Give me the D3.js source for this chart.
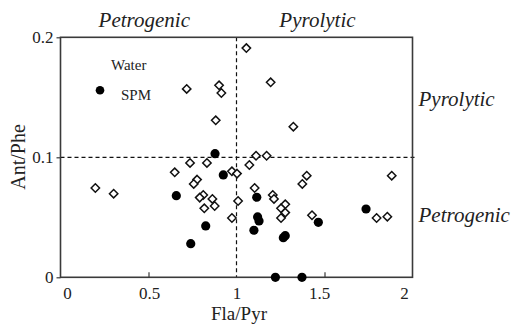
<!DOCTYPE html>
<html>
<head>
<meta charset="utf-8">
<script src="https://cdn.jsdelivr.net/npm/d3@7"></script>
<style>
  html, body { margin: 0; padding: 0; background: #fff; }
  svg { display: block; }
</style>
</head>
<body>
<svg id="chart" width="514" height="324" font-family="Liberation Serif"></svg>
<script>
// Water samples (open diamonds): Fla/Pyr, Ant/Phe
const waterX = [1.056, 1.194, 0.717, 0.901, 0.914, 0.882, 1.323, 1.111, 1.171, 0.736,
                0.832, 1.073, 0.649, 0.974, 1.003, 1.399, 1.882, 0.776, 0.757, 1.374,
                0.198, 1.103, 0.302, 0.811, 1.206, 0.791, 1.213, 0.863, 1.009, 1.277,
                0.817, 0.876, 1.253, 1.277, 1.429, 0.974, 1.253, 1.796, 1.857];
const waterY = [0.191, 0.1625, 0.157, 0.160, 0.1536, 0.1308, 0.1255, 0.1013, 0.1013, 0.0953,
                0.0953, 0.0936, 0.0875, 0.0883, 0.0864, 0.0847, 0.0847, 0.0814, 0.0778, 0.0778,
                0.0744, 0.0744, 0.0697, 0.0686, 0.0686, 0.0664, 0.0653, 0.0653, 0.0636, 0.0608,
                0.0575, 0.0594, 0.0575, 0.0539, 0.0517, 0.0494, 0.0494, 0.0494, 0.0505];
// SPM samples (filled circles)
const spmX = [0.878, 0.925, 0.658, 1.115, 0.825, 0.740, 1.736, 1.465, 1.120, 1.128,
              1.099, 1.266, 1.277, 1.221, 1.372];
const spmY = [0.103, 0.0853, 0.068, 0.0667, 0.0428, 0.028, 0.0569, 0.0458, 0.0503, 0.0469,
              0.0392, 0.033, 0.0347, 0.0, 0.0];

const xTicks = [0, 0.5, 1, 1.5, 2];
const xTickLabels = ["0", "0.5", "1", "1.5", "2"];
const yTicks = [0, 0.1, 0.2];
const yTickLabels = ["0", "0.1", "0.2"];
const xThreshold = [1];
const yThreshold = [0.1];
const xTitle = "Fla/Pyr";
const yTitle = "Ant/Phe";
const topLabels = ["Petrogenic", "Pyrolytic"];
const sideLabels = ["Pyrolytic", "Petrogenic"];
const legendLabels = ["Water", "SPM"];

const FONT = "Liberation Serif";
const svg = d3.select("#chart");
const L = 60.5, R = 412.5, T = 37.3, B = 277.3;
const x = d3.scaleLinear().domain([0, 2]).range([L, R]);
const y = d3.scaleLinear().domain([0, 0.2]).range([B, T]);

// threshold dashed lines
svg.selectAll("line.vth").data(xThreshold).enter().append("line")
  .attr("x1", d => x(d)).attr("x2", d => x(d))
  .attr("y1", T).attr("y2", B)
  .attr("stroke", "#111").attr("stroke-width", 1.2).attr("stroke-dasharray", "4,3");
svg.selectAll("line.hth").data(yThreshold).enter().append("line")
  .attr("x1", L).attr("x2", R + 3)
  .attr("y1", d => y(d)).attr("y2", d => y(d))
  .attr("stroke", "#111").attr("stroke-width", 1.2).attr("stroke-dasharray", "4,3");

// frame
svg.append("rect").attr("x", L).attr("y", T).attr("width", R - L).attr("height", B - T)
  .attr("fill", "none").attr("stroke", "#3a3a3a").attr("stroke-width", 1.6);

// x axis
const xAxis = d3.axisBottom(x).tickValues(xTicks)
  .tickFormat((d, i) => xTickLabels[i]).tickSizeInner(-5).tickSizeOuter(0).tickPadding(10);
const gx = svg.append("g").attr("transform", `translate(0,${B})`).call(xAxis)
  .attr("font-family", FONT).attr("font-size", 17);
gx.select(".domain").remove();
gx.selectAll(".tick line").attr("stroke", "#3a3a3a").attr("stroke-width", 1.2)
  .attr("display", d => (d === 0 || d === 2 || d === 1) ? "none" : null);
const xDx = [6.5, 0.5, 0, -5.5, -8.5];
gx.selectAll(".tick text").attr("font-family", FONT).attr("font-size", 17)
  .attr("fill", "#222").attr("dx", (d, i) => xDx[i]);

// y axis
const yAxis = d3.axisLeft(y).tickValues(yTicks)
  .tickFormat((d, i) => yTickLabels[i]).tickSizeInner(4).tickSizeOuter(0).tickPadding(3);
const gy = svg.append("g").attr("transform", `translate(${L},0)`).call(yAxis)
  .attr("font-family", FONT).attr("font-size", 17);
gy.select(".domain").remove();
gy.selectAll(".tick line").attr("stroke", "#3a3a3a").attr("stroke-width", 1.2);
gy.selectAll(".tick text").attr("font-family", FONT).attr("font-size", 17)
  .attr("fill", "#222");

// axis titles
svg.append("text").attr("x", 239).attr("y", 320).attr("text-anchor", "middle")
  .attr("font-family", FONT).attr("font-size", 19).attr("fill", "#222").text(xTitle);
svg.append("text").attr("transform", "translate(25,157) rotate(-90)")
  .attr("text-anchor", "middle").attr("font-family", FONT).attr("font-size", 20)
  .attr("fill", "#222").text(yTitle);

// region labels
svg.selectAll("text.top").data(topLabels).enter().append("text")
  .attr("x", (d, i) => i === 0 ? x(0.476) : x(1.46)).attr("y", 27)
  .attr("text-anchor", "middle").attr("font-family", FONT).attr("font-style", "italic")
  .attr("font-size", 21).attr("fill", "#222").text(d => d);
svg.selectAll("text.side").data(sideLabels).enter().append("text")
  .attr("x", R + 6).attr("y", (d, i) => i === 0 ? y(0.143) : y(0.0464))
  .attr("text-anchor", "start").attr("font-family", FONT).attr("font-style", "italic")
  .attr("font-size", 21).attr("fill", "#222").text(d => d);

// water points (diamonds)
svg.append("g").selectAll("path").data(waterX.map((v, i) => [v, waterY[i]])).enter()
  .append("path")
  .attr("d", () => { const s = 4.2; return `M0,${-s}L${s},0L0,${s}L${-s},0Z`; })
  .attr("transform", d => `translate(${x(d[0])},${y(d[1])})`)
  .attr("fill", "#fff").attr("stroke", "#111").attr("stroke-width", 1.5);

// spm points
svg.append("g").selectAll("circle").data(spmX.map((v, i) => [v, spmY[i]])).enter()
  .append("circle")
  .attr("cx", d => x(d[0])).attr("cy", d => y(d[1])).attr("r", 4.6)
  .attr("fill", "#000");

// legend
svg.append("text").attr("x", 111).attr("y", 70).attr("font-family", FONT)
  .attr("font-size", 15).attr("fill", "#222").text(legendLabels[0]);
svg.append("circle").attr("cx", 100).attr("cy", 90.3).attr("r", 4.3).attr("fill", "#000");
svg.append("text").attr("x", 121).attr("y", 100).attr("font-family", FONT)
  .attr("font-size", 15).attr("fill", "#222").text(legendLabels[1]);
</script>
</body>
</html>
